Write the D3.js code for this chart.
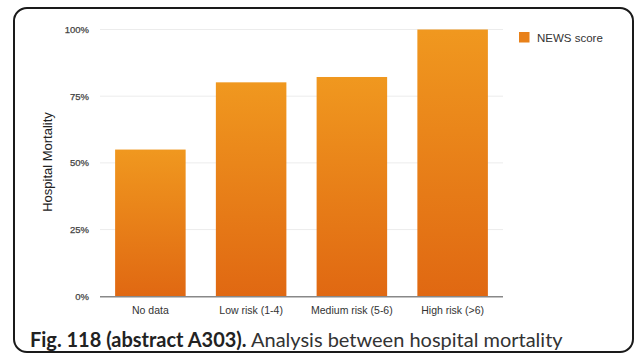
<!DOCTYPE html>
<html><head><meta charset="utf-8">
<script src="https://cdn.jsdelivr.net/npm/d3@7"></script>
<style>body{margin:0;background:#fff}svg{display:block}</style>
</head><body>
<script>
const categories = ["No data", "Low risk (1-4)", "Medium risk (5-6)", "High risk (>6)"];
const values = [55, 80.2, 82.2, 100];
const yTicks = [0, 25, 50, 75, 100];
const seriesName = "NEWS score";

const W = 637, H = 357;
const svg = d3.select("body").append("svg").attr("width", W).attr("height", H);

const defs = svg.append("defs");
const grad = defs.append("linearGradient").attr("id", "barGrad").attr("x1", 0).attr("y1", 0).attr("x2", 0).attr("y2", 1);
grad.append("stop").attr("offset", "0%").attr("stop-color", "#F0981F");
grad.append("stop").attr("offset", "100%").attr("stop-color", "#E06812");

// frame
svg.append("rect").attr("x", 14).attr("y", 8).attr("width", 619).attr("height", 344)
  .attr("rx", 13).attr("fill", "#fff").attr("stroke", "#1a1a1a").attr("stroke-width", 2);

const x = d3.scaleBand().domain(categories).range([100, 503]).paddingInner(0.3).paddingOuter(0.15);
const y = d3.scaleLinear().domain([0, 100]).range([296.3, 29.5]);

// gridlines
svg.append("g").selectAll("line").data(yTicks.filter(d => d > 0)).join("line")
  .attr("x1", 100).attr("x2", 503).attr("y1", d => y(d)).attr("y2", d => y(d))
  .attr("stroke", "#ececec").attr("stroke-width", 1);

const font = "Liberation Sans, Arial, sans-serif";

// y axis labels
const yAxis = d3.axisLeft(y).tickValues(yTicks).tickFormat(d => d + "%").tickSize(0).tickPadding(0);
const gy = svg.append("g").attr("transform", "translate(89,0)").call(yAxis);
gy.select(".domain").remove();
gy.selectAll("text").attr("font-family", font).attr("font-size", 9.5).attr("fill", "#444")
  .attr("stroke", "#444").attr("stroke-width", 0.25);

// bars
svg.append("g").selectAll("rect").data(values).join("rect")
  .attr("x", (d, i) => x(categories[i])).attr("width", x.bandwidth())
  .attr("y", d => y(d)).attr("height", d => y(0) - y(d))
  .attr("fill", "url(#barGrad)");

// x axis
const xAxis = d3.axisBottom(x).tickSize(0).tickPadding(10);
const gx = svg.append("g").attr("transform", `translate(0,${y(0)})`).call(xAxis);
gx.select(".domain").attr("d", `M100,0.5H503`).attr("stroke", "#888").attr("stroke-width", 1.5);
gx.selectAll("text").attr("font-family", font).attr("font-size", 10.5).attr("fill", "#333");

// y title
svg.append("text").attr("transform", "translate(52,162) rotate(-90)").attr("text-anchor", "middle")
  .attr("font-family", font).attr("font-size", 13).attr("fill", "#222")
  .text("Hospital Mortality");

// legend
svg.append("rect").attr("x", 519).attr("y", 32).attr("width", 10.5).attr("height", 10.5).attr("fill", "#E8811A");
svg.append("text").attr("x", 537).attr("y", 41.5).attr("font-family", font)
  .attr("font-size", 11.5).attr("fill", "#333").text(seriesName);

// caption
const cap = svg.append("text").attr("x", 30).attr("y", 346.5)
  .attr("font-family", "Lato, Open Sans, sans-serif").attr("font-size", 18).attr("fill", "#222");
cap.append("tspan").attr("font-weight", "bold").text("Fig. 118 (abstract A303).");
cap.append("tspan").attr("fill", "#333").text(" Analysis between hospital mortality");
const len = cap.node().getComputedTextLength();
cap.attr("font-size", 18 * 533 / len);
</script>
</body></html>
